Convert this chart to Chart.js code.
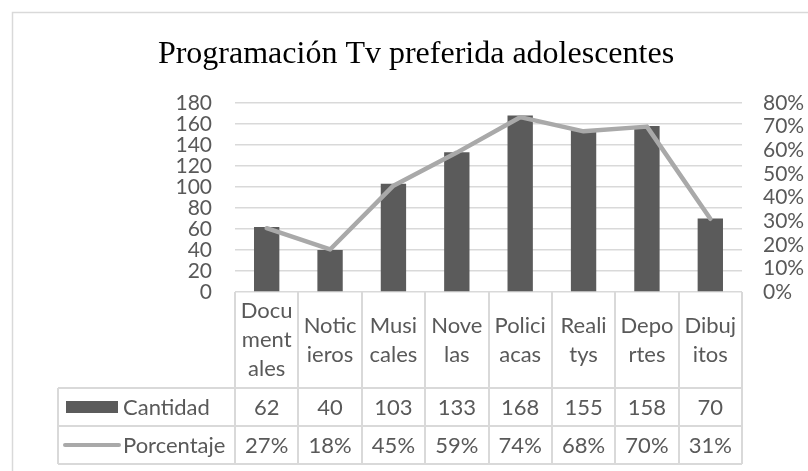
<!DOCTYPE html>
<html><head><meta charset="utf-8">
<script src="https://cdn.jsdelivr.net/npm/chart.js@4/dist/chart.umd.min.js"></script>
<style>html,body{margin:0;padding:0;background:#fff;}canvas{display:block;}</style>
</head><body>
<canvas id="c" width="808" height="471"></canvas>
<script>
const titleText = 'Programación Tv preferida adolescentes';
const categoryLines = [['Docu','ment','ales'],['Notic','ieros'],['Musi','cales'],['Nove','las'],['Polici','acas'],['Reali','tys'],['Depo','rtes'],['Dibuj','itos']];
const categories = ['Documentales','Noticieros','Musicales','Novelas','Policiacas','Realitys','Deportes','Dibujitos'];
const cantidad = [62, 40, 103, 133, 168, 155, 158, 70];
const porcentaje = [0.27, 0.18, 0.45, 0.59, 0.74, 0.68, 0.70, 0.31];
const seriesNames = ['Cantidad', 'Porcentaje'];

const FONT = 'Lato';
const TXT = '#595959';
const GRID = '#d9d9d9';
const BAR = '#5b5b5b';
const LINE = '#a9a9a9';

const tablePlugin = {
  id: 'tablePlugin',
  afterDraw(chart) {
    const ctx = chart.ctx;
    const x = chart.scales.x;
    const area = chart.chartArea;
    const n = categories.length;
    const colW = (area.right - area.left) / n;
    const top = area.bottom;
    const r1 = 388, r2 = 426, r3 = 464, headL = 58;
    ctx.save();
    ctx.strokeStyle = '#d9d9d9';
    ctx.lineWidth = 1.5;
    ctx.beginPath();
    ctx.moveTo(12.5, 475); ctx.lineTo(12.5, 12.5); ctx.lineTo(812, 12.5);
    ctx.stroke();
    ctx.fillStyle = '#000';
    ctx.font = '32px "Liberation Serif"';
    ctx.textAlign = 'center';
    ctx.textBaseline = 'alphabetic';
    ctx.fillText(titleText, 416, 63);
    ctx.strokeStyle = GRID;
    ctx.lineWidth = 2;
    ctx.beginPath();
    for (let i = 0; i <= n; i++) {
      const xx = Math.round(area.left + i * colW);
      ctx.moveTo(xx, top); ctx.lineTo(xx, r3);
    }
    [r1, r2, r3].forEach(y => { ctx.moveTo(headL, y); ctx.lineTo(area.right, y); });
    ctx.moveTo(headL, r1); ctx.lineTo(headL, r3);
    ctx.stroke();
    ctx.fillStyle = TXT;
    ctx.font = '22px ' + FONT;
    ctx.textAlign = 'center';
    ctx.textBaseline = 'middle';
    const lh = 29, cy = (top + r1) / 2;
    categoryLines.forEach((lines, i) => {
      const cx = x.getPixelForValue(i);
      const y0 = cy - (lines.length - 1) * lh / 2;
      lines.forEach((t, k) => ctx.fillText(t, cx, y0 + k * lh));
      ctx.fillText(String(cantidad[i]), cx, (r1 + r2) / 2 + 1);
      ctx.fillText(Math.round(porcentaje[i] * 100) + '%', cx, (r2 + r3) / 2 + 1);
    });
    ctx.fillStyle = BAR;
    ctx.fillRect(66, 401, 52, 12);
    ctx.strokeStyle = LINE;
    ctx.lineWidth = 4;
    ctx.lineCap = 'round';
    ctx.beginPath(); ctx.moveTo(65, 445); ctx.lineTo(119, 445); ctx.stroke();
    ctx.fillStyle = TXT;
    ctx.textAlign = 'left';
    ctx.fillText(seriesNames[0], 123, (r1 + r2) / 2 + 1);
    ctx.fillText(seriesNames[1], 123, (r2 + r3) / 2 + 1);
    ctx.restore();
  }
};

new Chart(document.getElementById('c'), {
  data: {
    labels: categories,
    datasets: [
      { type: 'line', label: seriesNames[1], data: porcentaje, yAxisID: 'y1', borderColor: LINE, borderWidth: 4.5, pointRadius: 0, tension: 0, borderJoinStyle: 'round', borderCapStyle: 'round', order: 0 },
      { type: 'bar', label: seriesNames[0], data: cantidad, yAxisID: 'y', backgroundColor: BAR, barPercentage: 0.4, categoryPercentage: 1, order: 1 }
    ]
  },
  options: {
    responsive: false,
    animation: false,
    devicePixelRatio: 1,
    layout: { padding: { top: 103, bottom: 83, left: 0, right: 0 } },
    plugins: { legend: { display: false }, title: { display: false }, tooltip: { enabled: false } },
    scales: {
      x: {
        ticks: { display: false },
        grid: { display: false },
        border: { display: false },
        afterFit: s => { s.height = 96; }
      },
      y: {
        position: 'left', min: 0, max: 180,
        ticks: { stepSize: 20, autoSkip: false, color: TXT, font: { family: FONT, size: 21, lineHeight: 1 }, padding: 23 },
        grid: { color: GRID, lineWidth: 1.5, drawTicks: false },
        border: { display: false },
        afterFit: s => { s.width = 235; }
      },
      y1: {
        position: 'right', min: 0, max: 0.8,
        ticks: { stepSize: 0.1, autoSkip: false, color: TXT, font: { family: FONT, size: 21, lineHeight: 1 }, padding: 21, callback: v => Math.round(v * 100) + '%' },
        grid: { display: false, drawTicks: false },
        border: { display: false },
        afterFit: s => { s.width = 66; }
      }
    }
  },
  plugins: [tablePlugin]
});
</script>
</body></html>
